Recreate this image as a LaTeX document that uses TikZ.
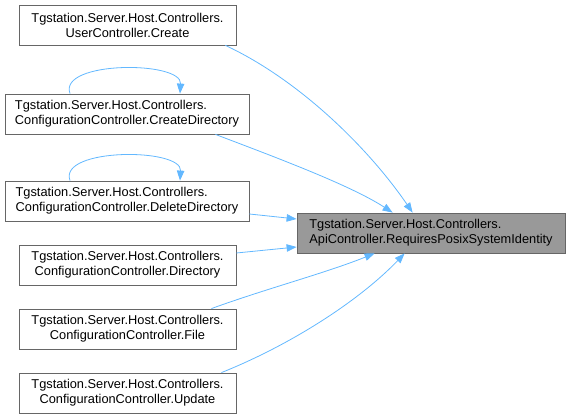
\documentclass[tikz,border=0pt]{standalone}
\usepackage{fontspec}
\setmainfont{Liberation Sans}
\usetikzlibrary{arrows.meta,calc}
\definecolor{edgeblue}{HTML}{63B8FF}
\definecolor{boxborder}{HTML}{666666}
\definecolor{mainfill}{HTML}{999999}
\tikzset{
  fnode/.style={draw=boxborder, fill=white, line width=0.8pt, inner sep=0pt,
    minimum height=40pt, font=\fontsize{12.8}{15}\selectfont},
  narrow/.style={fnode, minimum width=217pt, align=center},
  wide/.style={fnode, minimum width=244pt, align=left},
  mainnode/.style={fnode, fill=mainfill, minimum width=268pt, align=left},
  edge/.style={draw=edgeblue, line width=0.8pt,
    -{Triangle[length=10pt,width=7.5pt,fill=edgeblue]}},
}
\begin{document}
\begin{tikzpicture}[x=1pt,y=-1pt]
\useasboundingbox (0,0) rectangle (571,419);
\node[narrow] (uc) at (127.5,25) {Tgstation.Server.Host.Controllers.\\UserController.Create};
\node[wide] (cd) at (127,114) {Tgstation.Server.Host.Controllers.\\ConfigurationController.CreateDirectory};
\node[wide] (dd) at (127,201) {Tgstation.Server.Host.Controllers.\\ConfigurationController.DeleteDirectory};
\node[narrow] (dir) at (127.5,265) {Tgstation.Server.Host.Controllers.\\ConfigurationController.Directory};
\node[narrow] (file) at (127.5,329) {Tgstation.Server.Host.Controllers.\\ConfigurationController.File};
\node[narrow] (upd) at (127.5,393) {Tgstation.Server.Host.Controllers.\\ConfigurationController.Update};
\node[mainnode] (main) at (431,233) {Tgstation.Server.Host.Controllers.\\ApiController.RequiresPosixSystemIdentity};

% user controller create
\draw[edge] ([xshift=-11pt]uc.south east) .. controls +(75,35) and +(-43,-63) .. ([xshift=116pt]main.north west);
% create directory
\draw[edge] ([xshift=-34pt]cd.south east) .. controls +(55,21) and +(-43,-28) .. ([xshift=96pt]main.north west);
% self loops
\draw[edge] ([xshift=-57pt]cd.north) .. controls +(-12,-33) and +(2,-33) .. ([xshift=53pt]cd.north);
\draw[edge] ([xshift=-57pt]dd.north) .. controls +(-12,-33) and +(2,-33) .. ([xshift=53pt]dd.north);
% delete directory
\draw[edge] ([yshift=-13pt]dd.east) -- ([yshift=14pt]main.west);
% directory
\draw[edge] ([yshift=12pt]dir.east) -- ([yshift=-14pt]main.west);
% file
\draw[edge] ([xshift=-25pt]file.north east) .. controls +(55,-20) and +(-50,20) .. ([xshift=78pt]main.south west);
% update
\draw[edge] ([xshift=-15pt]upd.north east) .. controls +(70,-28) and +(-45,47) .. ([xshift=108pt]main.south west);
\end{tikzpicture}
\end{document}
